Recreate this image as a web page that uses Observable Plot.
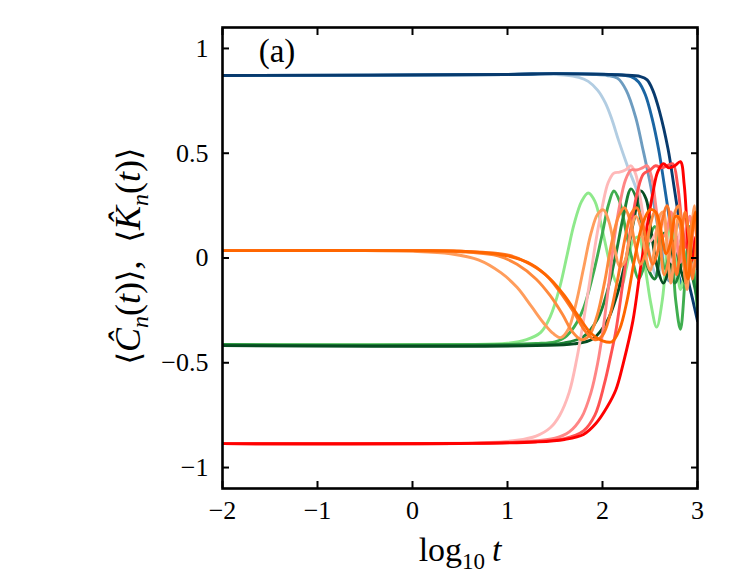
<!DOCTYPE html>
<html>
<head>
<meta charset="utf-8">
<script src="https://cdn.jsdelivr.net/npm/d3@7"></script>
<script src="https://cdn.jsdelivr.net/npm/@observablehq/plot@0.6"></script>
<style>
  html, body { margin: 0; padding: 0; background: #fff; }
  #chart { width: 747px; height: 575px; }
  #chart svg text { font-family: "Liberation Serif", "DejaVu Serif", serif; }
</style>
</head>
<body>
<div id="chart"></div>
<script>
// ---- tick labels ----
const xTicks = [-2, -1, 0, 1, 2, 3];
const xTickLabels = ["−2", "−1", "0", "1", "2", "3"];
const yTicks = [-1, -0.5, 0, 0.5, 1];
const yTickLabels = ["−1", "−0.5", "0", "0.5", "1"];

// ---- series (log10 t, value) ----
const blue1 = [[-2,0.871],[0,0.872],[1,0.876],[1.4,0.878],[1.6,0.873],[1.75,0.862],[1.85,0.843],[1.95,0.80],[2.03,0.74],[2.1,0.66],[2.17,0.56],[2.27,0.43],[2.37,0.31],[2.42,0.2],[2.47,0.08],[2.52,-0.03],[2.57,-0.09],[2.62,-0.03],[2.67,0.07],[2.72,0.02],[2.78,-0.08],[2.83,0.0],[2.88,0.08],[2.93,-0.02],[3,0.05]];
const blue2 = [[-2,0.871],[1,0.876],[1.5,0.88],[1.9,0.876],[2.05,0.871],[2.16,0.857],[2.25,0.80],[2.35,0.67],[2.42,0.53],[2.5,0.36],[2.57,0.18],[2.62,0.04],[2.66,-0.07],[2.7,-0.11],[2.75,-0.02],[2.8,0.1],[2.85,0.03],[2.9,-0.1],[2.95,0.0],[3,0.08]];
const blue3 = [[-2,0.871],[1,0.876],[1.5,0.88],[2.1,0.876],[2.3,0.866],[2.38,0.84],[2.45,0.78],[2.52,0.67],[2.59,0.52],[2.65,0.35],[2.7,0.2],[2.75,0.05],[2.8,-0.08],[2.85,-0.14],[2.9,-0.05],[2.95,0.08],[3,-0.05]];
const blue4 = [[-2,0.871],[1,0.876],[1.5,0.88],[2.2,0.873],[2.4,0.866],[2.47,0.85],[2.53,0.80],[2.6,0.70],[2.69,0.52],[2.75,0.35],[2.8,0.2],[2.85,0.05],[2.9,-0.1],[2.95,-0.2],[3,-0.3]];

const green1 = [[-2,-0.413],[0.5,-0.413],[1.0,-0.407],[1.2,-0.39],[1.35,-0.355],[1.45,-0.28],[1.55,-0.14],[1.63,0.02],[1.7,0.16],[1.78,0.27],[1.85,0.31],[1.92,0.27],[2.0,0.13],[2.08,-0.03],[2.15,-0.12],[2.2,-0.13],[2.25,-0.05],[2.32,0.08],[2.38,0.1],[2.45,-0.05],[2.51,-0.22],[2.57,-0.33],[2.63,-0.2],[2.68,0.05],[2.72,0.2],[2.77,0.05],[2.82,-0.15],[2.87,-0.05],[2.92,0.15],[2.97,-0.1],[3,-0.2]];
const green2 = [[-2,-0.413],[1.0,-0.413],[1.3,-0.408],[1.5,-0.4],[1.6,-0.38],[1.7,-0.33],[1.8,-0.24],[1.9,-0.08],[2.0,0.12],[2.06,0.25],[2.12,0.32],[2.18,0.27],[2.25,0.12],[2.32,-0.02],[2.38,-0.1],[2.43,-0.05],[2.5,0.1],[2.55,0.15],[2.6,0.05],[2.66,-0.05],[2.72,0.05],[2.77,-0.2],[2.82,-0.34],[2.87,-0.1],[2.92,0.15],[2.97,-0.1],[3,-0.25]];
const green3 = [[-2,-0.415],[1.2,-0.415],[1.6,-0.405],[1.8,-0.375],[1.95,-0.29],[2.05,-0.16],[2.15,0.04],[2.22,0.2],[2.3,0.33],[2.36,0.28],[2.42,0.12],[2.48,-0.05],[2.55,-0.1],[2.6,0.0],[2.65,0.12],[2.7,0.05],[2.76,-0.12],[2.82,-0.05],[2.88,0.1],[2.93,-0.05],[3,-0.2]];
const green4 = [[-2,-0.418],[1.3,-0.418],[1.7,-0.41],[1.9,-0.385],[2.05,-0.3],[2.15,-0.18],[2.25,0.0],[2.33,0.18],[2.4,0.32],[2.46,0.28],[2.52,0.1],[2.58,-0.05],[2.64,-0.12],[2.7,-0.05],[2.76,0.08],[2.82,-0.05],[2.88,-0.12],[2.94,0.05],[3,-0.05]];

const orange1 = [[-2,0.035],[-0.5,0.035],[0,0.032],[0.4,0.02],[0.7,-0.01],[0.93,-0.07],[1.1,-0.14],[1.25,-0.23],[1.38,-0.31],[1.48,-0.36],[1.56,-0.38],[1.64,-0.34],[1.72,-0.22],[1.8,-0.05],[1.88,0.12],[1.95,0.21],[2.01,0.23],[2.07,0.17],[2.13,0.04],[2.18,-0.04],[2.23,-0.02],[2.29,0.1],[2.35,0.2],[2.4,0.15],[2.46,0.0],[2.5,-0.06],[2.55,0.05],[2.6,0.2],[2.64,0.22],[2.68,0.05],[2.72,-0.12],[2.76,0.05],[2.8,0.2],[2.85,0.02],[2.89,-0.15],[2.93,0.1],[2.97,0.25],[3,0.0]];
const orange2 = [[-2,0.035],[0,0.035],[0.5,0.03],[0.9,0.01],[1.1,-0.03],[1.3,-0.1],[1.45,-0.18],[1.58,-0.27],[1.68,-0.35],[1.78,-0.39],[1.86,-0.37],[1.94,-0.28],[2.02,-0.12],[2.1,0.08],[2.17,0.2],[2.23,0.24],[2.29,0.18],[2.35,0.05],[2.4,-0.03],[2.45,0.02],[2.5,0.15],[2.55,0.22],[2.6,0.1],[2.65,-0.08],[2.7,0.0],[2.75,0.2],[2.8,0.25],[2.84,0.05],[2.88,-0.12],[2.92,0.1],[2.96,0.2],[3,0.05]];
const orange3 = [[-2,0.035],[0,0.035],[0.5,0.032],[1.0,0.015],[1.2,-0.02],[1.4,-0.08],[1.55,-0.16],[1.7,-0.26],[1.82,-0.35],[1.92,-0.39],[2.0,-0.37],[2.08,-0.27],[2.16,-0.1],[2.24,0.1],[2.3,0.21],[2.36,0.24],[2.42,0.17],[2.48,0.04],[2.53,-0.03],[2.58,0.03],[2.63,0.18],[2.68,0.25],[2.73,0.1],[2.78,-0.08],[2.82,0.05],[2.87,0.22],[2.91,0.1],[2.95,-0.1],[3,0.15]];
const orange4 = [[-2,0.035],[0,0.035],[0.6,0.03],[1.0,0.01],[1.25,-0.03],[1.45,-0.1],[1.6,-0.18],[1.75,-0.28],[1.88,-0.36],[2.0,-0.395],[2.1,-0.4],[2.18,-0.34],[2.26,-0.2],[2.34,0.0],[2.42,0.16],[2.5,0.23],[2.56,0.22],[2.62,0.12],[2.67,0.02],[2.72,0.08],[2.77,0.2],[2.82,0.18],[2.86,0.0],[2.9,-0.1],[2.94,0.1],[2.98,0.22],[3,0.1]];

const red1 = [[-2,-0.886],[0,-0.885],[0.8,-0.88],[1.1,-0.87],[1.3,-0.85],[1.45,-0.81],[1.55,-0.75],[1.65,-0.64],[1.73,-0.48],[1.8,-0.3],[1.87,-0.1],[1.93,0.08],[2.0,0.25],[2.06,0.36],[2.12,0.405],[2.18,0.41],[2.24,0.42],[2.3,0.44],[2.35,0.4],[2.4,0.28],[2.45,0.15],[2.5,0.08],[2.56,0.12],[2.62,0.2],[2.68,0.1],[2.73,-0.02],[2.78,0.05],[2.84,0.15],[2.9,0.05],[2.95,-0.05],[3,0.1]];
const red2 = [[-2,-0.886],[0.5,-0.885],[1.2,-0.875],[1.5,-0.86],[1.65,-0.83],[1.78,-0.76],[1.88,-0.64],[1.95,-0.5],[2.0,-0.36],[2.06,-0.15],[2.12,0.08],[2.18,0.25],[2.24,0.37],[2.3,0.42],[2.36,0.42],[2.42,0.43],[2.47,0.44],[2.52,0.38],[2.57,0.22],[2.62,0.1],[2.67,0.12],[2.72,0.22],[2.77,0.12],[2.82,-0.02],[2.87,0.1],[2.92,0.2],[2.96,0.05],[3,-0.05]];
const red3 = [[-2,-0.886],[0.5,-0.885],[1.3,-0.876],[1.6,-0.862],[1.8,-0.825],[1.92,-0.75],[2.02,-0.6],[2.09,-0.46],[2.14,-0.35],[2.22,-0.1],[2.3,0.15],[2.37,0.32],[2.43,0.4],[2.5,0.42],[2.56,0.44],[2.62,0.43],[2.68,0.44],[2.74,0.45],[2.79,0.35],[2.84,0.15],[2.88,0.05],[2.92,0.12],[2.96,0.2],[3,0.05]];
const red4 = [[-2,-0.886],[0.5,-0.885],[1.3,-0.878],[1.6,-0.866],[1.8,-0.842],[1.93,-0.79],[2.05,-0.71],[2.14,-0.63],[2.22,-0.5],[2.32,-0.3],[2.4,-0.05],[2.48,0.18],[2.53,0.31],[2.58,0.41],[2.64,0.45],[2.7,0.43],[2.76,0.44],[2.82,0.46],[2.86,0.35],[2.89,0.15],[2.92,-0.02],[2.95,0.0],[2.98,0.1],[3,0.05]];

// ---- series names and colours ----
const seriesNames = ["b1","b2","b3","b4","g1","g2","g3","g4","r1","r2","r3","r4","o1","o2","o3","o4"];
const seriesData  = [blue1,blue2,blue3,blue4,green1,green2,green3,green4,red1,red2,red3,red4,orange1,orange2,orange3,orange4];
const seriesColors = ["#b2cde2","#6d9cc0","#1a65a3","#083a6d",
                      "#8ee98b","#3fae4f","#1d8236","#064d21",
                      "#ffb8b8","#ff8585","#ff5252","#ff0000",
                      "#ff9d5c","#ff8a3d","#ff7726","#ff6600"];

const rows = seriesData.flatMap((pts, i) => pts.map(([x, y]) => ({x, y, s: seriesNames[i]})));

const FONT = "Liberation Serif, DejaVu Serif, serif";

const chart = Plot.plot({
  width: 747,
  height: 575,
  marginLeft: 222,
  marginRight: 50,
  marginTop: 27,
  marginBottom: 87,
  style: {fontFamily: FONT, fontSize: "26px", background: "#fff", color: "#000"},
  x: {domain: [-2, 3], label: null},
  y: {domain: [-1.1, 1.1], label: null},
  color: {domain: seriesNames, range: seriesColors},
  marks: [
    Plot.line(rows, {x: "x", y: "y", z: "s", stroke: "s", strokeWidth: 2.9, curve: "catmull-rom", clip: true}),
    // inward ticks on all four sides
    Plot.axisX({ticks: xTicks, tickSize: 7, dy: -7, text: null, strokeWidth: 2, label: null}),
    Plot.axisX({anchor: "top", ticks: xTicks, tickSize: 7, dy: 7, text: null, strokeWidth: 2, label: null}),
    Plot.axisY({ticks: yTicks, tickSize: 7, dx: 7, text: null, strokeWidth: 2, label: null}),
    Plot.axisY({anchor: "right", ticks: yTicks, tickSize: 7, dx: -7, text: null, strokeWidth: 2, label: null}),
    // tick labels
    Plot.axisX({ticks: xTicks, tickSize: 0, tickPadding: 12, tickFormat: d => xTickLabels[xTicks.indexOf(d)], fontSize: 26, label: null}),
    Plot.axisY({ticks: yTicks, tickSize: 0, tickPadding: 14, tickFormat: d => yTickLabels[yTicks.indexOf(d)], fontSize: 26, label: null}),
    Plot.frame({stroke: "#000", strokeWidth: 2.6})
  ]
});

document.getElementById("chart").appendChild(chart);

const svg = d3.select(chart);
// make sure tick labels use the intended size
svg.selectAll('g[aria-label$="tick label"] text').style("font-size", "26px");

// panel tag
svg.append("text")
  .attr("x", 277).attr("y", 62)
  .attr("text-anchor", "middle")
  .attr("font-size", 33)
  .text("(a)");

// x axis label: log10 t
const xl = svg.append("text")
  .attr("x", 460).attr("y", 561)
  .attr("text-anchor", "middle")
  .attr("font-size", 34);
xl.append("tspan").text("log");
xl.append("tspan").attr("dy", 8).attr("font-size", 23).text("10");
xl.append("tspan").attr("dy", -8).text("\u2009");
xl.append("tspan").attr("font-style", "italic").text("t");

// y axis label: ⟨Ĉn(t)⟩, ⟨K̂n(t)⟩
const yl = svg.append("text")
  .attr("transform", "translate(140,256) rotate(-90)")
  .attr("text-anchor", "middle")
  .attr("font-size", 36);
function addTerm(letter) {
  yl.append("tspan").attr("style", "font-family: 'DejaVu Serif', serif").attr("font-size", 32).text("\u27E8");
  yl.append("tspan").attr("font-style", "italic").text(letter);
  yl.append("tspan").attr("dy", 8).attr("font-size", 24).attr("font-style", "italic").text("n");
  yl.append("tspan").attr("dy", -8).text("(");
  yl.append("tspan").attr("font-style", "italic").text("t");
  yl.append("tspan").text(")");
  yl.append("tspan").attr("style", "font-family: 'DejaVu Serif', serif").attr("font-size", 32).text("\u27E9");
}
addTerm("\u0108");
yl.append("tspan").text(",\u2002");
addTerm("K\u0302");
</script>
</body>
</html>
